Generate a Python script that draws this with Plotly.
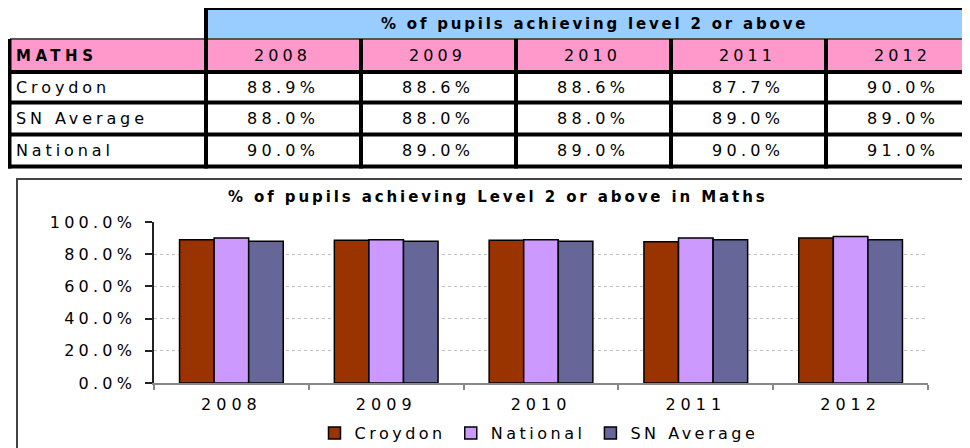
import plotly.graph_objects as go

# ---------------- data ----------------
years = ["2008", "2009", "2010", "2011", "2012"]
croydon = [88.9, 88.6, 88.6, 87.7, 90.0]
sn_average = [88.0, 88.0, 88.0, 89.0, 89.0]
national = [90.0, 89.0, 89.0, 90.0, 91.0]
table_rows = ["Croydon", "SN Average", "National"]
table_values = [croydon, sn_average, national]
table_title = "% of pupils achieving level 2 or above"
table_subject = "MATHS"
chart_title = "% of pupils achieving Level 2 or above in Maths"
y_ticks = [0, 20, 40, 60, 80, 100]

# ---------------- layout helpers ----------------
# page body has an 8px margin, so the figure is drawn from (8, 8)
OFF = 8
W, H = 970 - OFF, 448 - OFF
# plot area in screen pixels
Ls, Rs, Ts, Bs = 154, 928, 222, 383
FONT = "DejaVu Sans"


def px(x):
    return (x - Ls) / (Rs - Ls)


def py(y):
    return (Bs - y) / (Bs - Ts)


def ls(s, sp=3.8):
    return f"<span style='letter-spacing:{sp}px'>{s}</span>"


fig = go.Figure()

series = [("Croydon", croydon, "#993300"),
          ("National", national, "#CC99FF"),
          ("SN Average", sn_average, "#666699")]
for name, vals, col in series:
    fig.add_trace(go.Bar(
        x=years, y=vals, name=ls(name, 3.5),
        marker=dict(color=col, line=dict(color="#000000", width=1.5)),
        hovertemplate=name + " %{x}: %{y:.1f}%<extra></extra>",
    ))

shapes = []
annotations = []


def rect(x0, y0, x1, y1, fill):
    shapes.append(dict(type="rect", xref="paper", yref="paper",
                       x0=px(x0), x1=px(x1), y0=py(y0), y1=py(y1),
                       fillcolor=fill, line=dict(width=0), layer="above"))


def line(x0, y0, x1, y1, color="#000000", width=4):
    shapes.append(dict(type="line", xref="paper", yref="paper",
                       x0=px(x0), x1=px(x1), y0=py(y0), y1=py(y1),
                       line=dict(color=color, width=width), layer="above"))


def text(x, y, s, size=16, bold=False, anchor="center", sp=3.8):
    annotations.append(dict(xref="paper", yref="paper", x=px(x), y=py(y),
                            text=ls(s, sp), showarrow=False, xanchor=anchor, yanchor="middle",
                            font=dict(family=FONT, size=size, color="#000000",
                                      weight="bold" if bold else "normal")))


# ---------------- table ----------------
col_left = 206
col_w = 155
label_x0 = 9.5
right_edge = 990
row_lines = [72, 102.5, 134.5, 166.5]
row_centers = [87.5, 118.5, 150.5]

# fills
rect(col_left, 8, right_edge, 39, "#99CCFF")
rect(label_x0, 39, right_edge, 71, "#FF99CC")

# grey line under blue header
line(10, 39, right_edge, 39, color="#555555", width=2)
# top border of blue header
line(col_left - 2, 8.5, right_edge, 8.5, width=3)
# vertical border between label column and first year
line(col_left, 7, col_left, 168.5)
# left border
line(label_x0, 39, label_x0, 168.5)
# horizontal row borders
for yy in row_lines:
    line(label_x0 - 2, yy, right_edge, yy)
# vertical separators between year columns
for i in range(1, len(years)):
    xx = col_left + i * col_w
    line(xx, 39, xx, 168.5)

# texts
text(594, 23.5, table_title, size=15, bold=True, sp=2.8)
text(14, 55.5, table_subject, size=15, bold=True, anchor="left", sp=4.5)
for i, yr in enumerate(years):
    text(col_left + col_w * i + col_w / 2 - 1, 55.5, yr, sp=4.1)
for r, (lab, vals) in enumerate(zip(table_rows, table_values)):
    text(14, row_centers[r], lab, anchor="left", sp=3.9)
    for i, v in enumerate(vals):
        text(col_left + col_w * i + col_w / 2 - 1, row_centers[r], f"{v:.1f}%", sp=4.3)

# ---------------- chart frame ----------------
shapes.append(dict(type="rect", xref="paper", yref="paper",
                   x0=px(17), x1=px(1000), y0=py(179), y1=py(470),
                   line=dict(color="#444444", width=2), fillcolor="rgba(0,0,0,0)",
                   layer="above"))

# chart title
text(498, 197, chart_title, size=15, bold=True, sp=2.9)

fig.update_layout(
    width=W, height=H,
    margin=dict(l=Ls - OFF, r=W - (Rs - OFF), t=Ts - OFF, b=H - (Bs - OFF), pad=0,
                autoexpand=False),
    paper_bgcolor="#FFFFFF", plot_bgcolor="#FFFFFF",
    barmode="group", bargap=0.33, bargroupgap=0,
    font=dict(family=FONT, size=16, color="#000000"),
    showlegend=True,
    legend=dict(orientation="h", x=px(539), xanchor="center", y=py(433), yanchor="middle",
                font=dict(family=FONT, size=16), bgcolor="rgba(0,0,0,0)",
                itemwidth=30, traceorder="normal"),
    shapes=shapes,
    annotations=annotations,
)

fig.update_yaxes(range=[0, 100], tickvals=y_ticks,
                 ticktext=[ls(f"{v:.1f}%", 4.2) for v in y_ticks],
                 showgrid=True, gridcolor="#C0C0C0", griddash="dot", gridwidth=1,
                 showline=True, linecolor="#222222", linewidth=1.5,
                 ticks="outside", ticklen=7, tickcolor="#222222", tickwidth=1.5,
                 ticklabelstandoff=6, zeroline=False, automargin=False,
                 tickfont=dict(family=FONT, size=16))
fig.update_xaxes(tickvals=years, ticktext=[ls(y, 5.0) for y in years],
                 showline=True, linecolor="#888888", linewidth=1.5,
                 ticks="outside", tickson="boundaries", ticklen=5, tickcolor="#888888",
                 tickwidth=1.5, showgrid=False, ticklabelstandoff=6, automargin=False,
                 tickfont=dict(family=FONT, size=16))

fig.write_html("out.html")
